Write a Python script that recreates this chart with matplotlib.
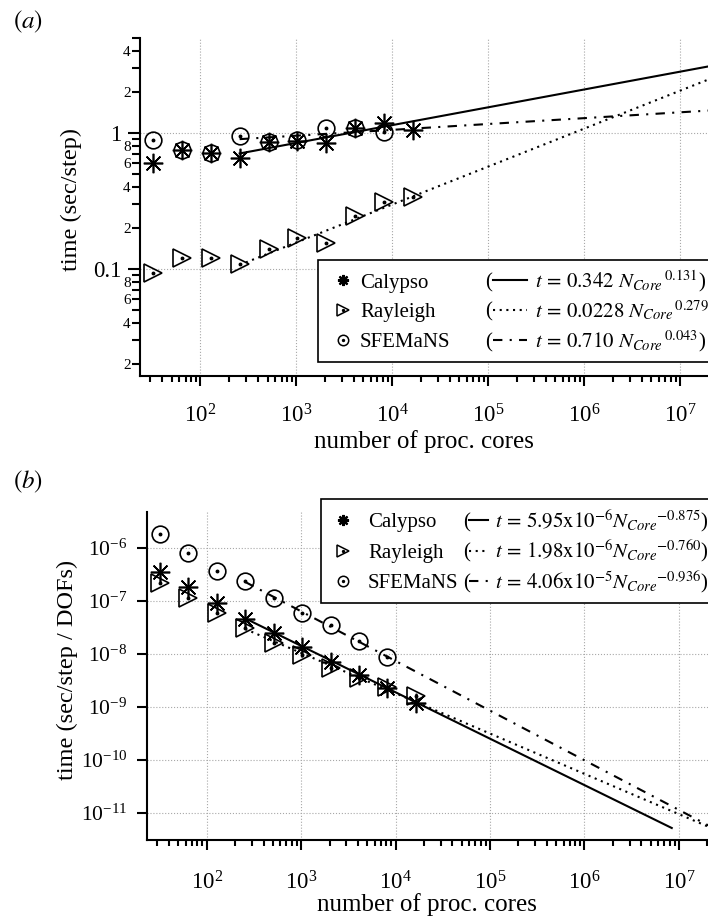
#!/usr/bin/env python3
"""Strong scaling of three dynamo codes: time per step vs. number of cores.

(a) wall time per step, (b) wall time per step normalised by the DOFs.
Power-law fits t = c * N_core^p are drawn from the coefficients printed in the legends.
"""

from __future__ import annotations

import matplotlib

matplotlib.use("Agg")
import matplotlib.pyplot as plt
import numpy as np
from matplotlib.legend_handler import HandlerBase
from matplotlib.lines import Line2D
from matplotlib.text import Text
from matplotlib.ticker import FixedLocator, FuncFormatter, NullFormatter, NullLocator

# 数据
CORES = [32, 64, 128, 256, 512, 1024, 2048, 4096, 8192, 16384]

# (a) sec/step
CALYPSO_A = [0.60, 0.75, 0.71, 0.65, 0.86, 0.87, 0.84, 1.09, 1.18, 1.05]
RAYLEIGH_A = [0.093, 0.12, 0.12, 0.109, 0.14, 0.17, 0.155, 0.245, 0.31, 0.34]
SFEMANS_A = [0.89, 0.75, 0.71, 0.95, 0.86, 0.89, 1.09, 1.09, 1.02]

# (b) sec/step / DOFs
CALYPSO_B = [3.5e-7, 1.84e-7, 8.9e-8, 4.45e-8, 2.5e-8, 1.35e-8, 7.1e-9, 4.0e-9, 2.3e-9, 1.17e-9]
RAYLEIGH_B = [2.13e-7, 1.11e-7, 5.8e-8, 3.0e-8, 1.58e-8, 9.5e-9, 5.4e-9, 3.5e-9, 2.4e-9, 1.6e-9]
SFEMANS_B = [1.79e-6, 7.8e-7, 3.7e-7, 2.35e-7, 1.11e-7, 5.8e-8, 3.5e-8, 1.76e-8, 8.7e-9]

# fits t = c * N^p
NAMES = ["Calypso", "Rayleigh", "SFEMaNS"]
FIT_COEF_A = [0.342, 0.0228, 0.710]
FIT_EXP_A = [0.131, 0.279, 0.043]
FIT_COEF_B = [5.95e-6, 1.98e-6, 4.06e-5]
FIT_EXP_B = [-0.875, -0.760, -0.936]
FIT_START = 256
FIT_END_A = [2**25, 2**25, 2**25]
FIT_END_B = [2**23, 2**25, 2**25]

FIT_LABELS_A = [
    r"$t\,=\,0.342\ N_{Core}{}^{\,0.131}$)",
    r"$t\,=\,0.0228\ N_{Core}{}^{\,0.279}$)",
    r"$t\,=\,0.710\ N_{Core}{}^{\,0.043}$)",
]
FIT_LABELS_B = [
    r"$t\,=\,5.95\mathrm{x}10^{-6}N_{Core}{}^{-0.875}$)",
    r"$t\,=\,1.98\mathrm{x}10^{-6}N_{Core}{}^{-0.760}$)",
    r"$t\,=\,4.06\mathrm{x}10^{-5}N_{Core}{}^{-0.936}$)",
]

X_DECADES = [2, 3, 4, 5, 6, 7]
Y_DECADES_A = [-1, 0]
Y_DECADES_B = [-11, -10, -9, -8, -7, -6]

MARKERS = [(8, 2, 0), ">", "o"]
MARKER_SIZES = [14, 13, 12]
CENTER_DOT = [False, True, True]
FIT_STYLES = ["-", (0, (1, 2.2)), (0, (4.5, 3.5, 1, 3.5))]

W, H = 708, 917
LEGEND_FS = 15

plt.rcParams["font.family"] = ["Liberation Serif", "DejaVu Serif"]
plt.rcParams["mathtext.fontset"] = "stix"


class LegendRow:
    def __init__(self, name, idx):
        self.name = name
        self.idx = idx


class HandlerRow(HandlerBase):
    """One legend row: marker, name, '(' and a line sample; the fit formula is the label."""

    def __init__(self, mx, nx, px, lx, **kw):
        super().__init__(**kw)
        self.mx, self.nx, self.px, self.lx = mx, nx, px, lx

    def create_artists(self, legend, orig_handle, xdescent, ydescent, width, height, fontsize, trans):
        i = orig_handle.idx
        x0 = -xdescent
        yc = (height - ydescent) / 2
        arts = []
        if i == 0:
            arts.append(Line2D([x0 + self.mx * fontsize], [yc], ls="none", marker=MARKERS[0],
                               ms=8, mew=1.6, color="k"))
        else:
            arts.append(Line2D([x0 + self.mx * fontsize], [yc], ls="none", marker=MARKERS[i],
                               ms=8 if i == 1 else 7.5, mfc="none", mec="k", mew=1.1))
            arts.append(Line2D([x0 + self.mx * fontsize], [yc], ls="none", marker="o",
                               ms=1.4, color="k"))
        arts.append(Text(x0 + self.nx * fontsize, 0, orig_handle.name, fontsize=fontsize,
                         ha="left", va="baseline"))
        arts.append(Text(x0 + self.px * fontsize, 0, "(", fontsize=fontsize,
                         ha="left", va="baseline"))
        arts.append(Line2D([x0 + self.lx * fontsize, x0 + width - 0.1 * fontsize], [yc, yc],
                           color="k", lw=1.5, ls=FIT_STYLES[i]))
        for a in arts:
            a.set_transform(trans)
        return arts


def minor_label(value, pos):
    mant = int(round(value / 10 ** np.floor(np.log10(value) + 1e-9)))
    return str(mant) if mant in (2, 4, 6, 8) else ""


def log_minors(lo, hi):
    vals = [m * 10.0**e for e in range(int(np.floor(np.log10(lo))), int(np.ceil(np.log10(hi))))
            for m in range(2, 10)]
    return [v for v in vals if lo <= v <= hi]


def style_axes(ax, xlim, xpad):
    ax.set_xscale("log")
    ax.set_yscale("log")
    ax.set_xlim(*xlim)
    for side in ("top", "right"):
        ax.spines[side].set_visible(False)
    for side in ("left", "bottom"):
        ax.spines[side].set_linewidth(1.5)
    ax.xaxis.set_major_locator(FixedLocator([10.0**e for e in X_DECADES]))
    ax.xaxis.set_minor_locator(FixedLocator(log_minors(*xlim)))
    ax.xaxis.set_minor_formatter(NullFormatter())
    ax.tick_params(which="both", direction="out", width=1.5, top=False, right=False)
    ax.tick_params(axis="x", which="major", length=7.5, pad=xpad, labelsize=16.5)
    ax.tick_params(axis="x", which="minor", length=4.5)
    ax.grid(True, which="major", ls=":", lw=0.8, color="#a8a8a8")
    ax.grid(False, which="minor")


def plot_panel(ax, series, coefs, exps, ends):
    for i, ys in enumerate(series):
        xs = CORES[: len(ys)]
        ax.plot(xs, ys, ls="none", marker=MARKERS[i], ms=MARKER_SIZES[i], mfc="none",
                mec="k", mew=1.2, zorder=3)
        if CENTER_DOT[i]:
            ax.plot(xs, ys, ls="none", marker="o", ms=1.8, color="k", zorder=3)
        xf = np.array([FIT_START, ends[i]], dtype=float)
        ax.plot(xf, coefs[i] * xf ** exps[i], color="k", lw=1.5, ls=FIT_STYLES[i], zorder=2)


def add_legend(fig, fit_labels, anchor, handlelength, mx, nx, px, lx):
    rows = [LegendRow(name, i) for i, name in enumerate(NAMES)]
    handler = HandlerRow(mx, nx, px, lx)
    leg = fig.legend(
        rows, fit_labels, loc="upper left", bbox_to_anchor=anchor, bbox_transform=fig.transFigure,
        fontsize=LEGEND_FS, frameon=True, fancybox=False, edgecolor="k", framealpha=1,
        handlelength=handlelength, handletextpad=0.25, borderpad=0.4, labelspacing=0.2,
        borderaxespad=0, handler_map={LegendRow: handler},
    )
    leg.get_frame().set_linewidth(1.2)
    return leg


def main() -> int:
    fig = plt.figure(figsize=(W / 100, H / 100), dpi=100)

    # (a)
    ax_a = fig.add_axes([140 / W, 1 - 376 / H, (W - 140) / W, (376 - 38) / H])
    style_axes(ax_a, (23.4, 1.96e7), 13)
    plot_panel(ax_a, [CALYPSO_A, RAYLEIGH_A, SFEMANS_A], FIT_COEF_A, FIT_EXP_A, FIT_END_A)
    ylim_a = (0.0163, 5.0)
    ax_a.set_ylim(*ylim_a)
    ax_a.yaxis.set_major_locator(FixedLocator([10.0**e for e in Y_DECADES_A]))
    ax_a.yaxis.set_minor_locator(FixedLocator(log_minors(*ylim_a)))
    ax_a.yaxis.set_major_formatter(FuncFormatter(lambda v, pos: f"{v:g}"))
    ax_a.yaxis.set_minor_formatter(FuncFormatter(minor_label))
    ax_a.tick_params(axis="y", which="major", length=8.6, pad=5, labelsize=16.5)
    ax_a.tick_params(axis="y", which="minor", length=5.8, pad=1, labelsize=11)
    ax_a.set_xlabel("number of proc. cores", fontsize=18)
    ax_a.set_ylabel("time (sec/step)", fontsize=17.5)
    ax_a.xaxis.set_label_coords(0.5, -0.16)
    ax_a.yaxis.set_label_coords(-0.102, 0.521)
    add_legend(fig, FIT_LABELS_A, (318 / W, 1 - 260 / H), 9.75, 0.8, 1.62, 7.6, 7.98)
    fig.text(13 / W, 1 - 22 / H, r"$(a)$", fontsize=18, ha="left", va="center")

    # (b)
    ax_b = fig.add_axes([146.7 / W, 1 - 840 / H, (W - 146.7) / W, (840 - 512) / H])
    style_axes(ax_b, (23.2, 2.03e7), 15)
    plot_panel(ax_b, [CALYPSO_B, RAYLEIGH_B, SFEMANS_B], FIT_COEF_B, FIT_EXP_B, FIT_END_B)
    ax_b.set_ylim(3.09e-12, 4.71e-6)
    ax_b.yaxis.set_major_locator(FixedLocator([10.0**e for e in Y_DECADES_B]))
    ax_b.yaxis.set_minor_locator(NullLocator())
    ax_b.tick_params(axis="y", which="major", length=7.5, pad=6.5, labelsize=15.5)
    ax_b.set_xlabel("number of proc. cores", fontsize=18)
    ax_b.set_ylabel("time (sec/step / DOFs)", fontsize=17.5)
    ax_b.xaxis.set_label_coords(0.5, -0.162)
    ax_b.yaxis.set_label_coords(-0.122, 0.518)
    add_legend(fig, FIT_LABELS_B, (321 / W, 1 - 499 / H), 7.7, 0.66, 1.86, 6.4, 6.72)
    fig.text(13 / W, 1 - 482 / H, r"$(b)$", fontsize=18, ha="left", va="center")

    fig.savefig("out.png", dpi=100)
    return 0


if __name__ == "__main__":
    raise SystemExit(main())
